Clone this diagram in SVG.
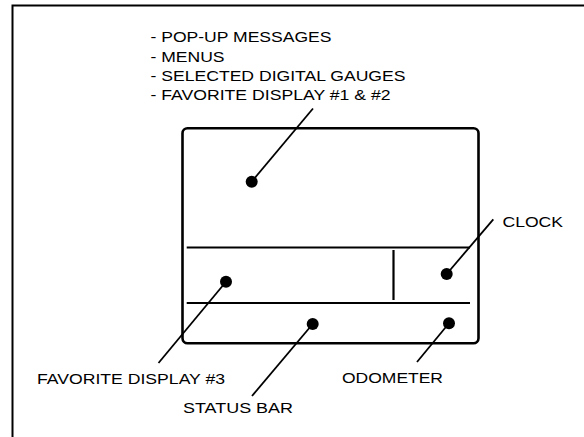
<svg xmlns="http://www.w3.org/2000/svg" width="584" height="437" viewBox="0 0 584 437">
<style>
text{font-family:"Liberation Sans",Arial,sans-serif;font-size:15.5px;fill:#000}
.frame{fill:none;stroke:#000;stroke-width:2}
.box{fill:none;stroke:#000;stroke-width:2.6}
.div{fill:none;stroke:#000;stroke-width:2.2}
.lead{fill:none;stroke:#000;stroke-width:1.8}
.dot{fill:#000}
</style>
<rect width="584" height="437" fill="#fff"/>
<path class="frame" d="M12.5 440 V5.5 H590"/>
<g id="display">
<rect class="box" x="182.5" y="128.3" width="296" height="215" rx="5"/>
<line class="div" x1="186.7" y1="247.5" x2="470" y2="247.5"/>
<line class="div" x1="186.7" y1="303" x2="470" y2="303"/>
<line class="div" x1="393.5" y1="250" x2="393.5" y2="300"/>
</g>
<g id="connectors">
<line class="lead" x1="251.7" y1="181.7" x2="313" y2="108.5"/>
<line class="lead" x1="226" y1="281.7" x2="158.5" y2="363"/>
<line class="lead" x1="312.7" y1="324" x2="252" y2="396"/>
<line class="lead" x1="449" y1="323.3" x2="417" y2="362"/>
<line class="lead" x1="446.7" y1="274" x2="493.3" y2="219.3"/>
</g>
<g id="main-area">
<circle class="dot" cx="251.7" cy="181.7" r="6"/>
<text x="150.5" y="42.3" textLength="181" lengthAdjust="spacingAndGlyphs">- POP-UP MESSAGES</text>
<text x="150.5" y="61.5" textLength="74" lengthAdjust="spacingAndGlyphs">- MENUS</text>
<text x="150.5" y="80.7" textLength="255" lengthAdjust="spacingAndGlyphs">- SELECTED DIGITAL GAUGES</text>
<text x="150.5" y="100" textLength="240" lengthAdjust="spacingAndGlyphs">- FAVORITE DISPLAY #1 &amp; #2</text>
</g>
<g id="favorite3">
<circle class="dot" cx="226" cy="281.7" r="6"/>
<text x="37" y="384" textLength="188" lengthAdjust="spacingAndGlyphs">FAVORITE DISPLAY #3</text>
</g>
<g id="status-bar">
<circle class="dot" cx="312.7" cy="324" r="6"/>
<text x="183" y="413.3" textLength="110" lengthAdjust="spacingAndGlyphs">STATUS BAR</text>
</g>
<g id="odometer">
<circle class="dot" cx="449" cy="323.3" r="6"/>
<text x="342" y="382.7" textLength="101" lengthAdjust="spacingAndGlyphs">ODOMETER</text>
</g>
<g id="clock">
<circle class="dot" cx="446.7" cy="274" r="6"/>
<text x="502.5" y="226.7" textLength="60.5" lengthAdjust="spacingAndGlyphs">CLOCK</text>
</g>
</svg>
